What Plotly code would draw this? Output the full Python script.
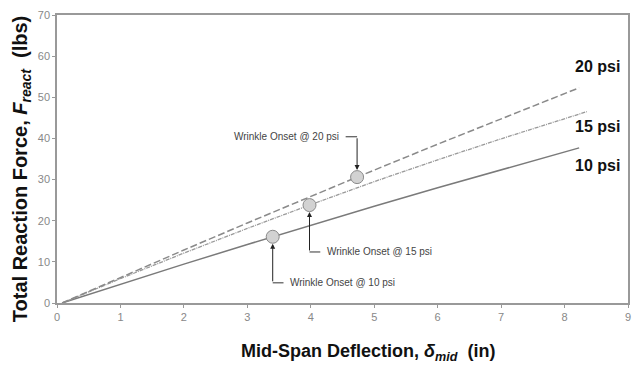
import plotly.graph_objects as go

# ---- data ----
x10 = [0.08, 1, 2, 3, 3.4, 4, 5, 6, 7, 8.23]
y10 = [0, 4.56, 9.44, 14.22, 16.1, 18.9, 23.5, 28.0, 32.4, 37.7]
x15 = [0.08, 1, 2, 3, 3.98, 5, 6, 7, 8.35]
y15 = [0, 5.92, 12.13, 18.13, 23.8, 29.5, 34.8, 39.9, 46.5]
x20 = [0.08, 1, 2, 3, 4, 4.73, 6, 7, 8.23]
y20 = [0, 6.21, 12.88, 19.45, 25.93, 30.6, 38.6, 44.8, 52.3]

onset_x = [3.40, 3.98, 4.73]
onset_y = [16.1, 23.8, 30.6]
onset_labels = ["Wrinkle Onset @ 10 psi", "Wrinkle Onset @ 15 psi", "Wrinkle Onset @ 20 psi"]
# callout elbow levels (y) and horizontal end (x) for each label
callout_y = [4.9, 12.4, 40.4]
callout_x = [3.57, 4.15, 4.55]

series_labels = ["10 psi", "15 psi", "20 psi"]
label_y = [33.5, 42.8, 57.5]
label_x = 8.13

x_ticks = [0, 1, 2, 3, 4, 5, 6, 7, 8, 9]
y_ticks = [0, 10, 20, 30, 40, 50, 60, 70]

FONT = "Liberation Sans, Arial, sans-serif"

fig = go.Figure()
fig.add_trace(go.Scatter(x=x10, y=y10, mode="lines",
                         line=dict(color="#7a7a7a", width=1.5), hoverinfo="skip"))
fig.add_trace(go.Scatter(x=x15, y=y15, mode="lines",
                         line=dict(color="#9a9a9a", width=1.3, dash="4px,1px,1px,1px"), hoverinfo="skip"))
fig.add_trace(go.Scatter(x=x20, y=y20, mode="lines",
                         line=dict(color="#8a8a8a", width=1.5, dash="7px,3px"), hoverinfo="skip"))
fig.add_trace(go.Scatter(x=onset_x, y=onset_y, mode="markers",
                         marker=dict(size=13, color="#d2d2d2", line=dict(color="#8a8a8a", width=1)),
                         hoverinfo="skip"))

shapes = []
annotations = []
for i in range(3):
    ox, oy, cy, cx = onset_x[i], onset_y[i], callout_y[i], callout_x[i]
    shapes.append(dict(type="line", xref="x", yref="y", x0=ox, y0=cy, x1=cx, y1=cy,
                       line=dict(color="#333", width=1)))
    annotations.append(dict(x=ox, y=oy, ax=ox, ay=cy, xref="x", yref="y", axref="x", ayref="y",
                            text="", showarrow=True, arrowhead=2, arrowsize=1, arrowwidth=1,
                            arrowcolor="#222", standoff=7))
    if i == 2:
        annotations.append(dict(x=cx - 0.07, y=cy, xref="x", yref="y", text=onset_labels[i],
                                showarrow=False, xanchor="right", yanchor="middle",
                                font=dict(family=FONT, size=10, color="#444")))
    else:
        annotations.append(dict(x=cx + 0.07, y=cy, xref="x", yref="y", text=onset_labels[i],
                                showarrow=False, xanchor="left", yanchor="middle",
                                font=dict(family=FONT, size=10, color="#444")))

for lab, ly in zip(series_labels, label_y):
    annotations.append(dict(x=label_x, y=ly, xref="x", yref="y", text="<b>" + lab + "</b>",
                            showarrow=False, xanchor="left", yanchor="middle",
                            font=dict(family=FONT, size=16, color="#111")))

annotations.append(dict(x=(370 - 57) / (631 - 57), y=-(352 - 303) / (303 - 15), xref="paper", yref="paper",
                        text="<b>Mid-Span Deflection, <i>δ</i><sub><i>mid</i></sub>  (in)</b>",
                        showarrow=False, xanchor="center", yanchor="middle",
                        font=dict(family=FONT, size=18, color="#111")))
annotations.append(dict(x=-(57 - 21) / (631 - 57), y=(303 - 169) / (303 - 15), xref="paper", yref="paper",
                        text="<b>Total Reaction Force, <i>F</i><sub><i>react</i></sub>  (lbs)</b>",
                        textangle=-90, showarrow=False, xanchor="center", yanchor="middle",
                        font=dict(family=FONT, size=20, color="#111")))

axis_common = dict(showgrid=False, zeroline=False, showline=True, linecolor="#999", linewidth=1.5,
                   mirror=True, ticks="outside", ticklen=3, tickcolor="#999",
                   tickfont=dict(family=FONT, size=11, color="#888"))

fig.update_layout(
    width=637, height=365,
    margin=dict(l=57, r=6, t=15, b=62),
    paper_bgcolor="white", plot_bgcolor="white",
    showlegend=False,
    shapes=shapes, annotations=annotations,
    xaxis=dict(range=[0, 9], tickvals=x_ticks, **axis_common),
    yaxis=dict(range=[0, 70], tickvals=y_ticks, **axis_common),
)

fig.write_html("out.html", config={"displayModeBar": False},
               post_script="document.body.style.margin='0';document.body.style.overflow='hidden';")
